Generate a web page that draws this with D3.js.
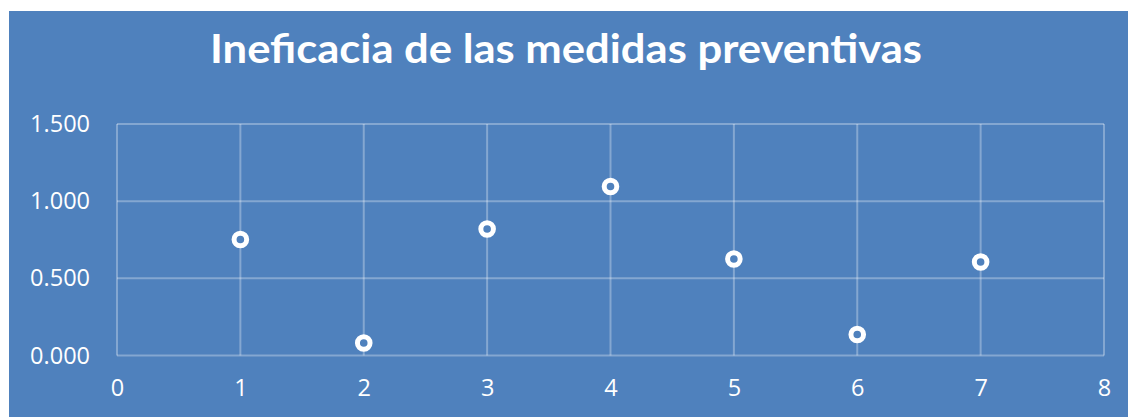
<!DOCTYPE html>
<html><head><meta charset="utf-8">
<script src="https://cdn.jsdelivr.net/npm/d3@7"></script>
<style>html,body{margin:0;padding:0;background:#fff;}svg{display:block;}</style>
</head><body>
<script>
const title = "Ineficacia de las medidas preventivas";
const xValues = [1, 2, 3, 4, 5, 6, 7];
const yValues = [0.752, 0.081, 0.820, 1.095, 0.625, 0.136, 0.606];
const xTicks = [0, 1, 2, 3, 4, 5, 6, 7, 8];
const yTicks = [0, 0.5, 1.0, 1.5];

const W = 1128, H = 417;
const svg = d3.select("body").append("svg").attr("width", W).attr("height", H);
svg.append("rect").attr("x", 9).attr("y", 11).attr("width", W - 9).attr("height", H - 11).attr("fill", "#4f81bd");

const x = d3.scaleLinear().domain([0, 8]).range([117, 1104]);
const y = d3.scaleLinear().domain([0, 1.5]).range([355.5, 124]);
const font = "'Open Sans', 'Liberation Sans', sans-serif";
const fmt = d => d3.format(".3f")(d);

// gridlines
const grid = svg.append("g").attr("stroke", "rgba(255,255,255,0.3)").attr("stroke-width", 2).attr("fill", "none");
grid.selectAll("line.h").data(yTicks).join("line").attr("class", "h")
  .attr("x1", x(0)).attr("x2", x(8)).attr("y1", d => y(d)).attr("y2", d => y(d));
grid.selectAll("line.v").data(xTicks).join("line").attr("class", "v")
  .attr("x1", d => x(d)).attr("x2", d => x(d)).attr("y1", y(0)).attr("y2", y(1.5));

// axes labels via d3 axes
const yAxis = svg.append("g").attr("transform", `translate(${x(0)},0)`)
  .call(d3.axisLeft(y).tickValues(yTicks).tickFormat(fmt).tickSize(0).tickPadding(27));
const xAxis = svg.append("g").attr("transform", `translate(0,${y(0)})`)
  .call(d3.axisBottom(x).tickValues(xTicks).tickFormat(d3.format("d")).tickSize(0).tickPadding(24));
[yAxis, xAxis].forEach(a => {
  a.select(".domain").remove();
  a.selectAll("text").attr("fill", "#fff").attr("font-family", font).attr("font-size", 23.5);
});

// title
const t = svg.append("text").attr("x", 566).attr("y", 63).attr("text-anchor", "middle")
  .attr("fill", "#fff").attr("font-family", "Lato, 'Open Sans', sans-serif").attr("font-weight", "bold")
  .attr("font-size", 41).text(title);
const tw = t.node().getComputedTextLength();
if (Math.abs(tw - 712) > 4) t.attr("textLength", 712).attr("lengthAdjust", "spacingAndGlyphs");

// points
svg.append("g").selectAll("circle").data(xValues.map((d, i) => [d, yValues[i]])).join("circle")
  .attr("cx", d => x(d[0])).attr("cy", d => y(d[1])).attr("r", 6.3)
  .attr("fill", "#4f81bd").attr("stroke", "#fff").attr("stroke-width", 5);
</script>
</body></html>
